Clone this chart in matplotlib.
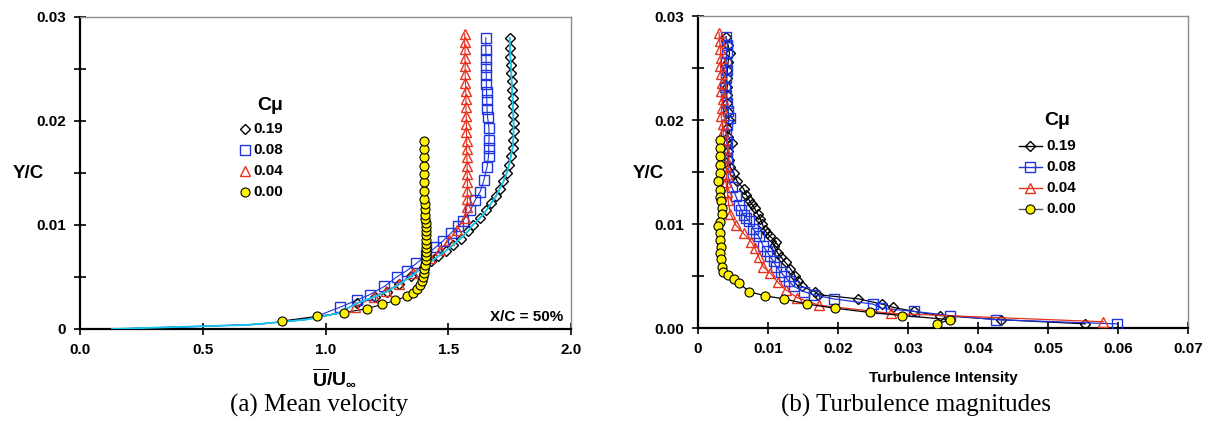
import numpy as np
import matplotlib
matplotlib.use("Agg")
import matplotlib.pyplot as plt
from matplotlib.lines import Line2D
from matplotlib.ticker import MultipleLocator

plt.rcParams['font.family'] = ['Liberation Sans', 'DejaVu Sans']
plt.rcParams['mathtext.fontset'] = 'custom'
plt.rcParams['mathtext.rm'] = 'Liberation Sans:bold'
plt.rcParams['mathtext.bf'] = 'Liberation Sans:bold'

W, H = 1208, 429

# =============================================================================
# DATA
# =============================================================================

CMU_LABELS = ["0.19", "0.08", "0.04", "0.00"]

# --- (a) mean velocity, U/Uinf vs Y/C ---
u19 = [0.13, 0.40, 0.69, 0.92, 1.05, 1.13, 1.20, 1.25, 1.30, 1.35, 1.40, 1.43, 1.46,
       1.49, 1.52, 1.55, 1.58, 1.60, 1.63, 1.655, 1.675, 1.695, 1.71, 1.725, 1.738,
       1.748, 1.755, 1.762, 1.765, 1.766, 1.766, 1.765, 1.763, 1.762, 1.760, 1.758,
       1.757, 1.755, 1.753, 1.752, 1.750]
y19 = [0.0000, 0.0002, 0.0004, 0.0009, 0.0015, 0.0025, 0.0031, 0.0036, 0.0043, 0.0051,
       0.0060, 0.0065, 0.0070, 0.0075, 0.0081, 0.0087, 0.0094, 0.0100, 0.0107, 0.0114,
       0.0121, 0.0128, 0.0135, 0.0142, 0.0150, 0.0158, 0.0166, 0.0174, 0.0182, 0.0190,
       0.0198, 0.0206, 0.0214, 0.0222, 0.0230, 0.0238, 0.0246, 0.0254, 0.0262, 0.0270,
       0.0280]

u08 = [0.13, 0.45, 0.75, 0.95, 1.06, 1.13, 1.18, 1.24, 1.29, 1.33, 1.37, 1.41, 1.45,
       1.48, 1.51, 1.54, 1.56, 1.59, 1.61, 1.63, 1.645, 1.658, 1.664, 1.665, 1.666,
       1.666, 1.660, 1.658, 1.657, 1.656, 1.655, 1.655, 1.654, 1.654, 1.653, 1.653]
y08 = [0.0000, 0.0002, 0.0005, 0.0011, 0.0021, 0.0028, 0.0033, 0.0041, 0.0050, 0.0056,
       0.0063, 0.0071, 0.0079, 0.0085, 0.0092, 0.0099, 0.0104, 0.0114, 0.0124, 0.0132,
       0.0143, 0.0156, 0.0166, 0.0174, 0.0182, 0.0193, 0.0204, 0.0212, 0.0220, 0.0228,
       0.0236, 0.0244, 0.0252, 0.0260, 0.0268, 0.0280]

u04 = [1.121, 1.196, 1.247, 1.301, 1.356, 1.400, 1.426, 1.465, 1.505, 1.536, 1.567,
       1.576, 1.578, 1.578, 1.578, 1.577, 1.577, 1.576, 1.575, 1.575, 1.574, 1.574,
       1.573, 1.572, 1.572, 1.571, 1.570, 1.569, 1.569, 1.568, 1.568, 1.567, 1.567]
y04 = [0.0021, 0.0031, 0.0037, 0.0043, 0.0054, 0.0062, 0.0068, 0.0076, 0.0086, 0.0095,
       0.0107, 0.0117, 0.0125, 0.0133, 0.0141, 0.0149, 0.0157, 0.0165, 0.0173, 0.0181,
       0.0189, 0.0197, 0.0205, 0.0213, 0.0221, 0.0229, 0.0237, 0.0245, 0.0253, 0.0261,
       0.0269, 0.0276, 0.0284]

u00 = [0.824, 0.966, 1.076, 1.168, 1.232, 1.285, 1.331, 1.356, 1.373, 1.384, 1.392,
       1.396, 1.400, 1.403, 1.406, 1.408, 1.409, 1.410, 1.411, 1.411, 1.411, 1.410,
       1.410, 1.409, 1.408, 1.407, 1.406, 1.405, 1.404, 1.403, 1.402, 1.402, 1.401,
       1.401, 1.401, 1.401, 1.401]
y00 = [0.00077, 0.00122, 0.00157, 0.00196, 0.00237, 0.00276, 0.00314, 0.0035, 0.00385,
       0.00427, 0.0046, 0.0050, 0.0054, 0.0058, 0.0062, 0.0066, 0.0070, 0.0074, 0.0078,
       0.0082, 0.0086, 0.0090, 0.0094, 0.0098, 0.0102, 0.0106, 0.0110, 0.0115, 0.0120,
       0.0125, 0.0133, 0.0141, 0.0149, 0.0157, 0.0165, 0.0173, 0.0181]

# --- (b) turbulence intensity vs Y/C ---
t19 = [0.0040, 0.0043, 0.0045, 0.0043, 0.0042, 0.0041, 0.0042, 0.0041, 0.0042, 0.0043,
       0.0044, 0.0042, 0.0043, 0.0048, 0.0043, 0.0044, 0.0046, 0.0051, 0.0056, 0.0065,
       0.0069, 0.0073, 0.0077, 0.0081, 0.0085, 0.0089, 0.0092, 0.0095, 0.0099, 0.0103,
       0.0112, 0.0108, 0.0114, 0.0119, 0.0125, 0.0132, 0.0139, 0.0143, 0.0148, 0.0167,
       0.0172, 0.0229, 0.0263, 0.0278, 0.0308, 0.0345, 0.0433, 0.0553]
ty19 = [0.0280, 0.0272, 0.0264, 0.0256, 0.0248, 0.0240, 0.0232, 0.0224, 0.0216, 0.0208,
        0.0200, 0.0192, 0.0184, 0.0178, 0.0170, 0.0162, 0.0155, 0.0149, 0.0141, 0.0134,
        0.0128, 0.0123, 0.0119, 0.0115, 0.0110, 0.0105, 0.0100, 0.0094, 0.0091, 0.0088,
        0.0083, 0.0079, 0.0072, 0.0068, 0.0063, 0.0057, 0.0050, 0.0045, 0.0040, 0.0035,
        0.0032, 0.0028, 0.0023, 0.0020, 0.0016, 0.0012, 0.0008, 0.0004]

t08 = [0.0040, 0.0042, 0.0041, 0.0040, 0.0041, 0.0040, 0.0039, 0.0040, 0.0041, 0.0043,
       0.0045, 0.0042, 0.0040, 0.0041, 0.0042, 0.0042, 0.0043, 0.0043, 0.0048, 0.0054,
       0.0059, 0.0062, 0.0065, 0.0069, 0.0073, 0.0079, 0.0083, 0.0087, 0.0093, 0.0098,
       0.0103, 0.0108, 0.0112, 0.0118, 0.0123, 0.0130, 0.0137, 0.0151, 0.0165, 0.0194,
       0.0250, 0.0262, 0.0308, 0.0360, 0.0425, 0.0598]
ty08 = [0.0280, 0.0272, 0.0264, 0.0256, 0.0248, 0.0240, 0.0232, 0.0224, 0.0216, 0.0209,
        0.0202, 0.0195, 0.0187, 0.0179, 0.0171, 0.0163, 0.0155, 0.0146, 0.0136, 0.0127,
        0.0118, 0.0113, 0.0109, 0.0106, 0.0103, 0.0095, 0.0091, 0.0088, 0.0079, 0.0074,
        0.0069, 0.0064, 0.0059, 0.0054, 0.0050, 0.0045, 0.0040, 0.0035, 0.0032, 0.0028,
        0.0023, 0.0019, 0.0016, 0.0012, 0.0008, 0.0004]

t04 = [0.0030, 0.0031, 0.0032, 0.0033, 0.0032, 0.0033, 0.0034, 0.0033, 0.0035, 0.0034,
       0.0033, 0.0035, 0.0036, 0.0037, 0.0038, 0.0039, 0.0040, 0.0041, 0.0040, 0.0042,
       0.0043, 0.0046, 0.0054, 0.0065, 0.0076, 0.0081, 0.0087, 0.0093, 0.0103, 0.0114,
       0.0125, 0.0142, 0.0173, 0.0276, 0.0579]
ty04 = [0.0284, 0.0276, 0.0268, 0.0260, 0.0252, 0.0244, 0.0236, 0.0228, 0.0220, 0.0212,
        0.0204, 0.0196, 0.0188, 0.0180, 0.0172, 0.0164, 0.0156, 0.0148, 0.0140, 0.0131,
        0.0123, 0.0110, 0.0099, 0.0091, 0.0083, 0.0077, 0.0068, 0.0059, 0.0053, 0.0044,
        0.0037, 0.0029, 0.0022, 0.0014, 0.0006]

t00 = [0.0032, 0.0032, 0.0032, 0.0032, 0.0031, 0.0029, 0.0031, 0.0031, 0.0033, 0.0034,
       0.0034, 0.0032, 0.0029, 0.0031, 0.0032, 0.0033, 0.0032, 0.0033, 0.0034, 0.0036,
       0.0043, 0.0051, 0.0059, 0.0073, 0.0095, 0.0123, 0.0156, 0.0196, 0.0245, 0.0292,
       0.0360, 0.0342]
ty00 = [0.0181, 0.0173, 0.0165, 0.0157, 0.0149, 0.0141, 0.0133, 0.0126, 0.0122, 0.0115,
        0.0110, 0.0102, 0.0098, 0.0091, 0.0085, 0.0078, 0.0072, 0.0066, 0.0059, 0.0054,
        0.0051, 0.0047, 0.0043, 0.0035, 0.0031, 0.0028, 0.0023, 0.0019, 0.0015, 0.0012,
        0.0008, 0.0004]

XT_A = [0.0, 0.5, 1.0, 1.5, 2.0]
XT_A_LAB = ["0.0", "0.5", "1.0", "1.5", "2.0"]
YT_A_LAB = ["0", "0.01", "0.02", "0.03"]
XT_B = [0, 0.01, 0.02, 0.03, 0.04, 0.05, 0.06, 0.07]
XT_B_LAB = ["0", "0.01", "0.02", "0.03", "0.04", "0.05", "0.06", "0.07"]
YT_B_LAB = ["0.00", "0.01", "0.02", "0.03"]
YT = [0, 0.01, 0.02, 0.03]

BLACK = "#000000"
BLUE = "#1f35e0"
RED = "#e8321e"
YELLOW = "#fff200"
CYAN = "#18c8f0"

# marker styles per series
STY = [
    dict(marker='D', ms=5.0, mfc='none', mec=BLACK, mew=1.0),
    dict(marker='s', ms=6.5, mfc='none', mec=BLUE, mew=1.0),
    dict(marker='^', ms=7.0, mfc='none', mec=RED, mew=1.0),
    dict(marker='o', ms=6.5, mfc=YELLOW, mec=BLACK, mew=0.8),
]

# =============================================================================
# FIGURE
# =============================================================================

fig = plt.figure(figsize=(W / 100, H / 100), dpi=100)


def fx(x):
    return x / W


def fy(y):
    return 1 - y / H


def style_axes(ax):
    for s in ('left', 'bottom'):
        ax.spines[s].set_linewidth(1.6)
        ax.spines[s].set_color('black')
    for s in ('top', 'right'):
        ax.spines[s].set_linewidth(1.0)
        ax.spines[s].set_color('#8c8c8c')
    ax.tick_params(which='both', direction='inout', length=8, width=1.2,
                   top=False, right=False, labelsize=11, pad=6)
    ax.yaxis.set_minor_locator(MultipleLocator(0.005))
    for lab in ax.get_xticklabels() + ax.get_yticklabels():
        lab.set_fontweight('bold')


# ---------------- (a) mean velocity ----------------
axa = fig.add_axes([fx(80), fy(329), fx(571) - fx(80), fy(17) - fy(329)])
axa.plot(u19, y19, color=BLACK, lw=0.8, zorder=2)
axa.plot(u08, y08, color=BLUE, lw=0.8, zorder=2)
axa.plot(u04, y04, color=RED, lw=0.8, zorder=2)
axa.plot(u00, y00, color=BLACK, lw=0.8, zorder=2)
axa.plot(u19[5:], y19[5:], ls='none', zorder=3, **STY[0])
axa.plot(u19, y19, color=CYAN, lw=1.3, zorder=4)
axa.plot(u08[4:], y08[4:], ls='none', zorder=3, **STY[1])
axa.plot(u04, y04, ls='none', zorder=3, **STY[2])
axa.plot(u00, y00, ls='none', zorder=5, **STY[3])
axa.set_xlim(0, 2.0)
axa.set_ylim(0, 0.03)
axa.set_xticks(XT_A, XT_A_LAB)
axa.set_yticks(YT, YT_A_LAB)
style_axes(axa)

# ---------------- (b) turbulence ----------------
axb = fig.add_axes([fx(698), fy(328), fx(1188) - fx(698), fy(16) - fy(328)])
axb.plot(t19, ty19, color=BLACK, lw=0.9, zorder=3, **STY[0])
axb.plot(t08, ty08, color=BLUE, lw=0.9, zorder=3, **STY[1])
axb.plot(t04, ty04, color=RED, lw=0.9, zorder=3, **STY[2])
axb.plot(t00, ty00, color=BLACK, lw=0.9, zorder=4, **STY[3])
axb.set_xlim(0, 0.07)
axb.set_ylim(0, 0.03)
axb.set_xticks(XT_B, XT_B_LAB)
axb.set_yticks(YT, YT_B_LAB)
style_axes(axb)

# ---------------- axis labels ----------------
fig.text(fx(28), fy(173), "Y/C", fontsize=13.5, fontweight='bold', ha='center', va='center')
fig.text(fx(648), fy(173), "Y/C", fontsize=13.5, fontweight='bold', ha='center', va='center')
fig.text(fx(335), fy(378), r"$\overline{\mathrm{U}}\mathrm{/U}_{\infty}$", fontsize=14,
         ha='center', va='center')
fig.text(fx(943), fy(378), "Turbulence Intensity", fontsize=11, fontweight='bold',
         ha='center', va='center')
fig.text(fx(527), fy(317), "X/C = 50%", fontsize=11, fontweight='bold',
         ha='center', va='center')

# ---------------- captions ----------------
fig.text(fx(319), fy(405), "(a) Mean velocity", fontsize=18, family='Liberation Serif',
         ha='center', va='center')
fig.text(fx(916), fy(405), "(b) Turbulence magnitudes", fontsize=18,
         family='Liberation Serif', ha='center', va='center')

# ---------------- legends (drawn by hand) ----------------
rows_a = [129, 150, 171, 192]
rows_b = [146, 167, 188, 209]
fig.text(fx(270), fy(105), "C\u03bc", fontsize=14, fontweight='bold', ha='center', va='center')
fig.text(fx(1057), fy(120), "C\u03bc", fontsize=14, fontweight='bold', ha='center', va='center')
for i, lab in enumerate(CMU_LABELS):
    fig.add_artist(Line2D([fx(245)], [fy(rows_a[i])], transform=fig.transFigure,
                          ls='none', **STY[i]))
    fig.text(fx(253), fy(rows_a[i]), lab, fontsize=11, fontweight='bold', va='center')
    lc = [BLACK, BLUE, RED, '#555555'][i]
    fig.add_artist(Line2D([fx(1019), fx(1042)], [fy(rows_b[i])] * 2,
                          transform=fig.transFigure, color=lc, lw=1.0))
    fig.add_artist(Line2D([fx(1030)], [fy(rows_b[i])], transform=fig.transFigure,
                          ls='none', **STY[i]))
    fig.text(fx(1046), fy(rows_b[i]), lab, fontsize=11, fontweight='bold', va='center')

fig.savefig("out.png", dpi=100)
